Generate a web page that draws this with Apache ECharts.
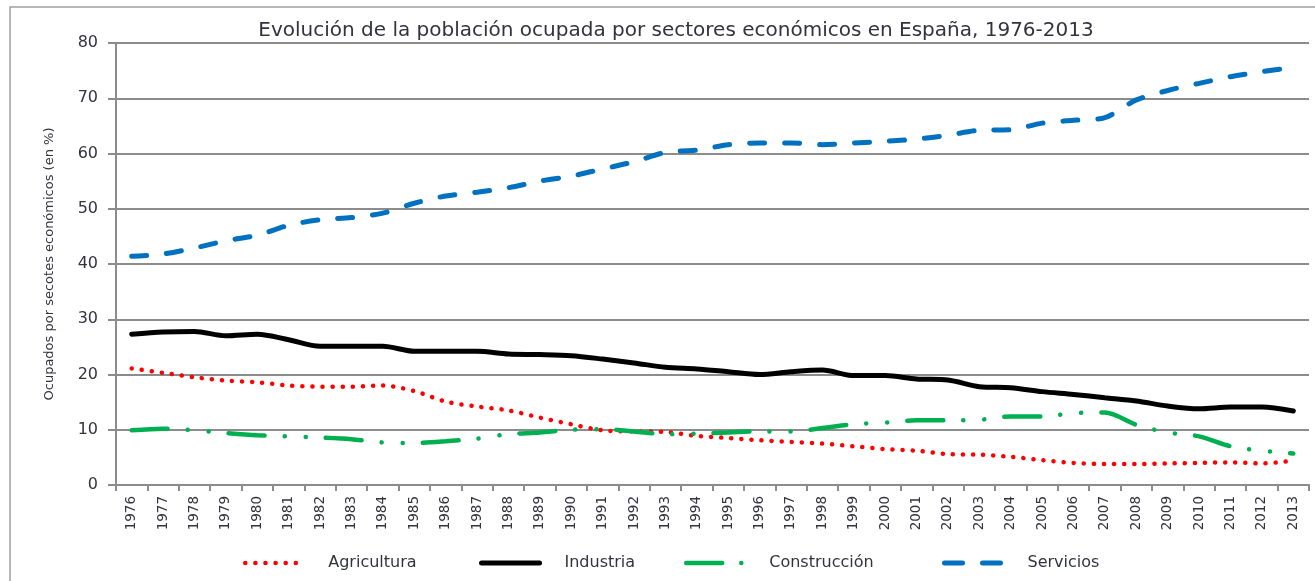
<!DOCTYPE html>
<html>
<head>
<meta charset="utf-8">
<script src="https://cdn.jsdelivr.net/npm/echarts@6/dist/echarts.min.js"></script>
<style>
  html, body { margin: 0; padding: 0; background: #fff; }
  #chart { width: 1315px; height: 581px; }
</style>
</head>
<body>
<div id="chart"></div>
<script>
// Años 1976-2013
const years = ['1976','1977','1978','1979','1980','1981','1982','1983','1984','1985',
  '1986','1987','1988','1989','1990','1991','1992','1993','1994','1995',
  '1996','1997','1998','1999','2000','2001','2002','2003','2004','2005',
  '2006','2007','2008','2009','2010','2011','2012','2013'];

// Ocupados por sector (en %)
const agricultura = [21.1, 20.3, 19.5, 18.9, 18.6, 18.0, 17.8, 17.8, 18.0, 17.0,
  15.1, 14.2, 13.5, 12.2, 11.0, 9.9, 9.7, 9.6, 8.9, 8.5,
  8.1, 7.8, 7.5, 7.0, 6.5, 6.2, 5.6, 5.5, 5.1, 4.5,
  4.0, 3.8, 3.8, 3.9, 4.0, 4.1, 3.9, 4.4];

const industria = [27.3, 27.7, 27.8, 27.0, 27.3, 26.3, 25.1, 25.1, 25.1, 24.2,
  24.2, 24.2, 23.7, 23.6, 23.4, 22.8, 22.1, 21.3, 21.0, 20.5,
  20.0, 20.5, 20.8, 19.8, 19.8, 19.2, 19.0, 17.8, 17.6, 16.9,
  16.4, 15.8, 15.2, 14.3, 13.8, 14.1, 14.1, 13.4];

const construccion = [9.9, 10.2, 9.9, 9.4, 9.0, 8.8, 8.6, 8.3, 7.7, 7.6,
  7.9, 8.4, 9.2, 9.5, 10.0, 10.1, 9.7, 9.2, 9.3, 9.5,
  9.7, 9.7, 10.3, 11.0, 11.3, 11.7, 11.7, 11.8, 12.4, 12.4,
  13.0, 13.1, 10.9, 9.5, 8.8, 7.0, 6.2, 5.7];

const servicios = [41.4, 41.8, 42.9, 44.2, 45.2, 47.0, 48.0, 48.4, 49.2, 51.0,
  52.3, 53.0, 53.8, 55.0, 55.9, 57.2, 58.5, 60.2, 60.6, 61.6,
  61.9, 61.9, 61.6, 61.9, 62.2, 62.6, 63.3, 64.2, 64.3, 65.5,
  66.0, 66.5, 69.7, 71.4, 72.7, 73.9, 74.8, 75.6];

const yTicks = [0, 10, 20, 30, 40, 50, 60, 70, 80];

const FONT = 'DejaVu Sans';
const TEXT = '#333340';
const GRID = '#8c8c8c';

// Line styles shared by the series and their legend samples
const styles = {
  'Agricultura':  { color: '#ff0000', width: 4.5, type: [0.1, 10], cap: 'round' },
  'Industria':    { color: '#000000', width: 5, type: 'solid', cap: 'round' },
  'Construcción': { color: '#00b050', width: 4.5, type: [36, 20, 0.1, 21, 0.1, 20], cap: 'round' },
  'Servicios':    { color: '#0070c0', width: 5, type: [15, 20], cap: 'round' }
};

const legendDash = {
  'Agricultura':  [0.1, 10],
  'Industria':    'solid',
  'Construcción': [36, 19, 0.1, 40],
  'Servicios':    [18, 20]
};

const chart = echarts.init(document.getElementById('chart'), null, { renderer: 'canvas' });

function legendAt(name, left) {
  const s = styles[name];
  return {
    data: [name],
    left: left,
    top: 550,
    itemWidth: 58,
    itemHeight: 14,
    selectedMode: false,
    itemStyle: { color: 'rgba(0,0,0,0)', borderWidth: 0, opacity: 0 },
    lineStyle: { color: s.color, width: s.width, type: legendDash[name], cap: 'round', opacity: 1 },
    textStyle: { fontFamily: FONT, fontSize: 16, color: TEXT, padding: [0, 0, 0, 20] }
  };
}

function lineSeries(name, data) {
  return {
    name: name, type: 'line', data: data,
    smooth: 0.3, showSymbol: false, symbol: 'none',
    lineStyle: styles[name],
    itemStyle: { color: styles[name].color }
  };
}

chart.setOption({
  animation: false,
  backgroundColor: '#fff',
  title: {
    text: 'Evolución de la población ocupada por sectores económicos en España, 1976-2013',
    left: 671,
    top: 16,
    textAlign: 'center',
    textStyle: { fontFamily: FONT, fontSize: 20, fontWeight: 'normal', color: TEXT }
  },
  graphic: [{
    type: 'rect',
    shape: { x: 10, y: 7, width: 1330, height: 600 },
    style: { fill: 'none', stroke: '#a0a0a0', lineWidth: 1.5 },
    silent: true,
    z: -1
  }],
  legend: [
    legendAt('Agricultura', 238),
    legendAt('Industria', 474),
    legendAt('Construcción', 679),
    legendAt('Servicios', 937)
  ],
  grid: { left: 116, right: 6, top: 43, bottom: 96 },
  xAxis: {
    type: 'category',
    data: years,
    boundaryGap: true,
    axisLine: { lineStyle: { color: GRID, width: 2 } },
    axisTick: { show: true, length: 6, lineStyle: { color: GRID, width: 2 } },
    axisLabel: {
      rotate: 90, margin: 11, interval: 0,
      fontFamily: FONT, fontSize: 13.5, color: TEXT
    }
  },
  yAxis: {
    type: 'value',
    min: 0, max: 80, interval: 10,
    name: 'Ocupados por secotes económicos (en %)',
    nameLocation: 'middle',
    nameRotate: 90,
    nameGap: 60,
    nameTextStyle: { fontFamily: FONT, fontSize: 13, color: TEXT },
    axisLine: { show: true, lineStyle: { color: GRID, width: 2 } },
    axisTick: { show: true, inside: false, length: 8, lineStyle: { color: GRID, width: 2 } },
    axisLabel: {
      margin: 18, fontFamily: FONT, fontSize: 16, color: TEXT,
      formatter: v => yTicks.includes(v) ? String(v) : ''
    },
    splitLine: { lineStyle: { color: GRID, width: 2 } }
  },
  series: [
    lineSeries('Agricultura', agricultura),
    lineSeries('Industria', industria),
    lineSeries('Construcción', construccion),
    lineSeries('Servicios', servicios)
  ]
});
</script>
</body>
</html>
